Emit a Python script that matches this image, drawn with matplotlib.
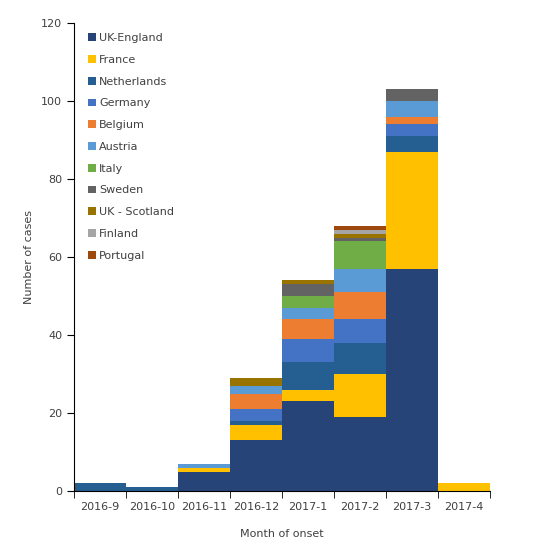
import numpy as np
import matplotlib
matplotlib.use("Agg")
import matplotlib.pyplot as plt

# months of onset
months = ["2016-9", "2016-10", "2016-11", "2016-12", "2017-1", "2017-2", "2017-3", "2017-4"]

# cases per country, per month
uk_england  = [0, 0, 5, 13, 23, 19, 57, 0]
france      = [0, 0, 1, 4, 3, 11, 30, 2]
netherlands = [2, 1, 0, 1, 7, 8, 4, 0]
germany     = [0, 0, 0, 3, 6, 6, 3, 0]
belgium     = [0, 0, 0, 4, 5, 7, 2, 0]
austria     = [0, 0, 1, 2, 3, 6, 4, 0]
italy       = [0, 0, 0, 0, 3, 7, 0, 0]
sweden      = [0, 0, 0, 0, 3, 1, 3, 0]
uk_scotland = [0, 0, 0, 2, 1, 1, 0, 0]
finland     = [0, 0, 0, 0, 0, 1, 0, 0]
portugal    = [0, 0, 0, 0, 0, 1, 0, 0]

countries = ["UK-England", "France", "Netherlands", "Germany", "Belgium", "Austria",
             "Italy", "Sweden", "UK - Scotland", "Finland", "Portugal"]
series = [uk_england, france, netherlands, germany, belgium, austria,
          italy, sweden, uk_scotland, finland, portugal]
colors = ["#264478", "#FFC000", "#255E91", "#4472C4", "#ED7D31", "#5B9BD5",
          "#70AD47", "#636363", "#997300", "#A5A5A5", "#9E480E"]

plt.rcParams['font.family'] = ['DejaVu Sans']
fig = plt.figure(figsize=(5.49, 5.48), dpi=100)
ax = fig.add_axes([0.1348, 0.104, 0.758, 0.854])

x = np.arange(len(months))
bottom = np.zeros(len(months))
for name, vals, col in zip(countries, series, colors):
    vals = np.array(vals)
    ax.bar(x, vals, width=1.0, bottom=bottom, color=col, label=name, linewidth=0)
    bottom += vals

ax.set_xlim(-0.5, len(months) - 0.5)
ax.set_ylim(0, 120)
ax.set_yticks(range(0, 121, 20))
ax.set_xticks(x)
ax.set_xticklabels(months)
ax.set_xticks(np.arange(-0.5, len(months), 1), minor=True)
ax.tick_params(axis='x', which='major', length=0, labelsize=8, colors='#404040', pad=8)
ax.tick_params(axis='x', which='minor', length=5, color='#000000')
ax.tick_params(axis='y', labelsize=8, colors='#404040', length=5)
ax.tick_params(axis='y', color='#000000')
for s in ['top', 'right']:
    ax.spines[s].set_visible(False)
ax.spines['left'].set_color('#000000')
ax.spines['bottom'].set_color('#000000')

ax.set_xlabel("Month of onset", fontsize=8, color='#404040', labelpad=12)
ax.set_ylabel("Number of cases", fontsize=8, color='#404040', labelpad=5)

leg = ax.legend(loc='upper left', bbox_to_anchor=(0.01, 1.0), frameon=False,
                fontsize=8, handlelength=0.7, handleheight=0.7, handletextpad=0.3,
                labelspacing=1.06, labelcolor='#404040')

fig.savefig("out.png", dpi=100)
